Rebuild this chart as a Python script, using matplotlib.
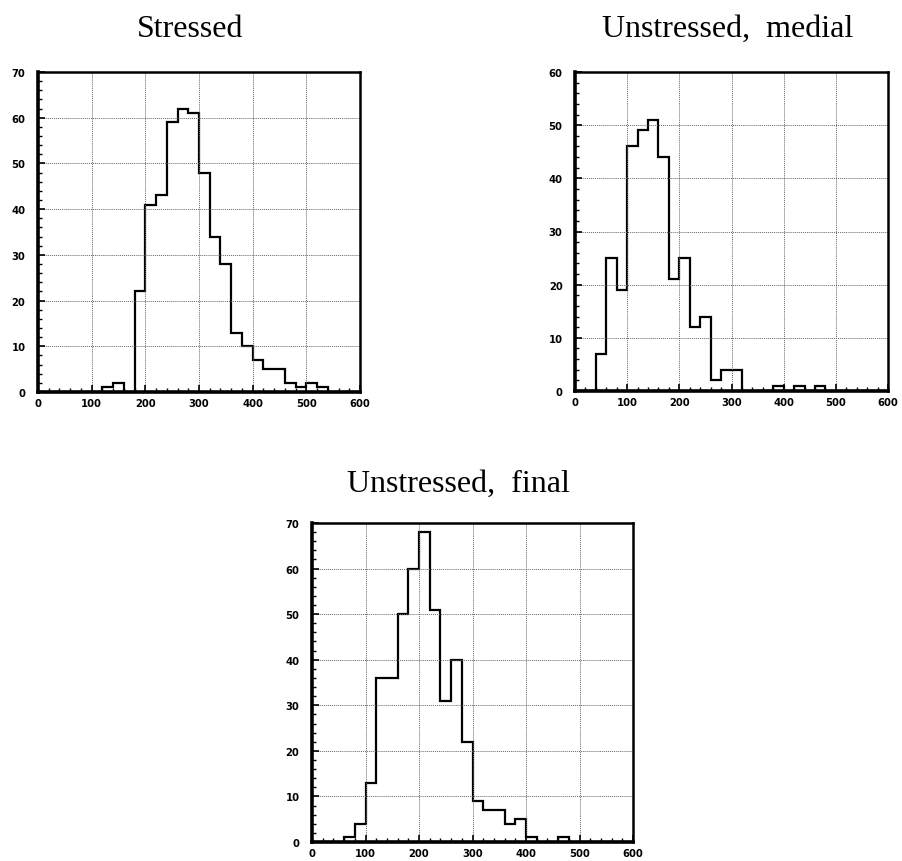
import numpy as np
import matplotlib
matplotlib.use("Agg")
import matplotlib.pyplot as plt
from matplotlib.ticker import MultipleLocator
from matplotlib.font_manager import FontProperties

# Bin edges shared by all three histograms (20-unit bins from 0 to 600)
bin_edges = np.arange(0, 620, 20)

# Counts per bin, 0-20, 20-40, ..., 580-600
stressed_counts = [0, 0, 0, 0, 0, 0, 1, 2, 0, 22,
                   41, 43, 59, 62, 61, 48, 34, 28, 13, 10,
                   7, 5, 5, 2, 1, 2, 1, 0, 0, 0]
medial_counts = [0, 0, 7, 25, 19, 46, 49, 51, 44, 21,
                 25, 12, 14, 2, 4, 4, 0, 0, 0, 1,
                 0, 1, 0, 1, 0, 0, 0, 0, 0, 0]
final_counts = [0, 0, 0, 1, 4, 13, 36, 36, 50, 60,
                68, 51, 31, 40, 22, 9, 7, 7, 4, 5,
                1, 0, 0, 1, 0, 0, 0, 0, 0, 0]

titles = ["Stressed", "Unstressed,  medial", "Unstressed,  final"]
y_limits = [70, 60, 70]

fig = plt.figure(figsize=(9.02, 8.62), dpi=100)

W, H = 902.0, 862.0
def box(l, t, r, b):
    return [l / W, (H - b) / H, (r - l) / W, (b - t) / H]

axes_boxes = [box(38, 73, 360, 393), box(575, 73, 888, 392), box(312, 524, 633, 843)]
title_pos = [(190, 37), (728, 37), (458, 492)]
series = [stressed_counts, medial_counts, final_counts]

tick_font = FontProperties(family="DejaVu Sans", weight="bold", size=7.2)

for rect, counts, ymax, title, (tx, ty) in zip(axes_boxes, series, y_limits, titles, title_pos):
    ax = fig.add_axes(rect)
    ax.stairs(counts, bin_edges, baseline=0, color="black", linewidth=1.6)
    ax.set_xlim(0, 600)
    ax.set_ylim(0, ymax)
    ax.xaxis.set_major_locator(MultipleLocator(100))
    ax.xaxis.set_minor_locator(MultipleLocator(20))
    ax.yaxis.set_major_locator(MultipleLocator(10))
    ax.yaxis.set_minor_locator(MultipleLocator(2))
    ax.grid(True, which="major", linestyle=(0, (1, 1)), color="#666666", linewidth=0.7)
    ax.tick_params(which="major", direction="in", length=5, width=1.2)
    ax.tick_params(axis="x", which="major", pad=4)
    ax.tick_params(axis="y", which="major", pad=9)
    ax.tick_params(which="minor", direction="in", length=3, width=1.0)
    for lab in ax.get_xticklabels() + ax.get_yticklabels():
        lab.set_fontproperties(tick_font)
    ax.spines["left"].set_linewidth(2.6)
    ax.spines["bottom"].set_linewidth(2.6)
    ax.spines["top"].set_linewidth(1.8)
    ax.spines["right"].set_linewidth(1.8)
    fig.text(tx / W, 1 - ty / H, title, ha="center", va="baseline",
             family="Liberation Serif", fontsize=23)

fig.savefig("out.png", dpi=100)
